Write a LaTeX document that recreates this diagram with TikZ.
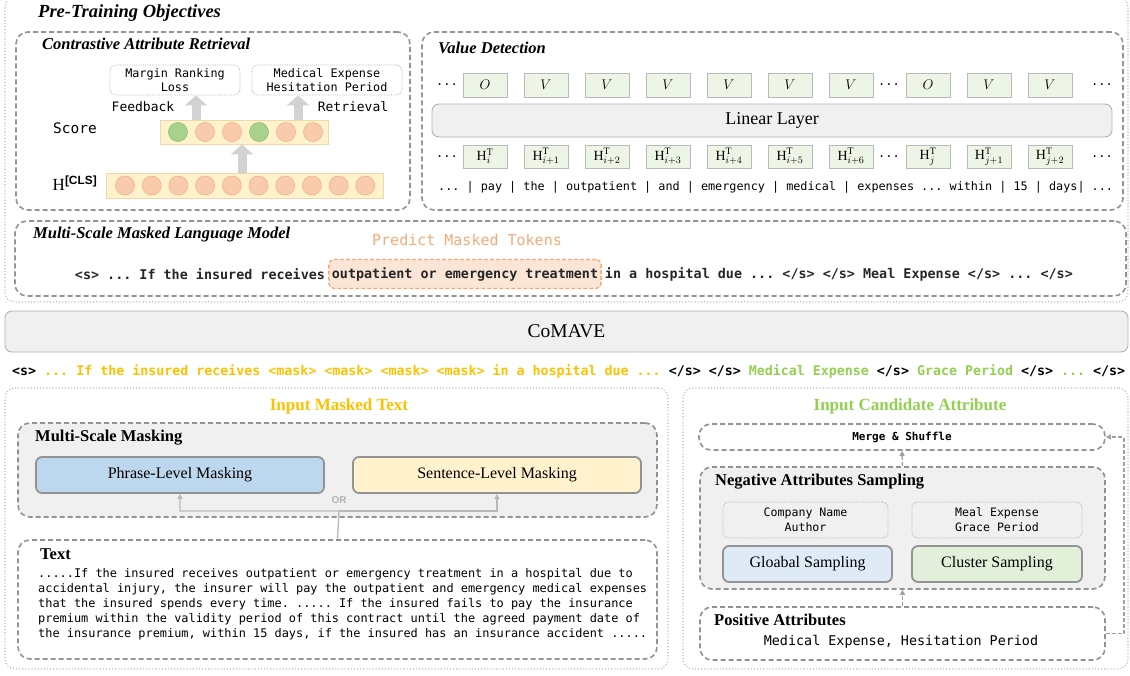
\documentclass[tikz,border=0pt]{standalone}
\usepackage{fix-cm}
\usepackage{fontspec}
\setmainfont{Liberation Serif}
\setsansfont{Liberation Sans}
\setmonofont{DejaVu Sans Mono}
\usepackage{tikz}
\usetikzlibrary{arrows.meta,positioning}

\definecolor{ballfill}{HTML}{F8CBAD}
\definecolor{ballline}{HTML}{F4B183}
\definecolor{gballfill}{HTML}{A9D18E}
\definecolor{gballline}{HTML}{8DBF6C}
\definecolor{barfill}{HTML}{FFF2CC}
\definecolor{barline}{HTML}{EFD9A6}
\definecolor{vcell}{HTML}{EDF5E6}
\definecolor{yel}{HTML}{FFC000}
\definecolor{lgr}{HTML}{92D050}
\definecolor{pred}{HTML}{F4AA78}
\definecolor{predfill}{HTML}{FBE5D6}
\definecolor{phrfill}{HTML}{BDD7EE}
\definecolor{senfill}{HTML}{FFF2CC}
\definecolor{glsfill}{HTML}{DEEBF7}
\definecolor{clsfill}{HTML}{E2F0D9}

\begin{document}
\begin{tikzpicture}
[x=1pt,y=-1pt,
 dotbox/.style={draw=gray!55,dotted,line width=1.1pt,rounded corners=10pt,inner sep=0pt},
 dashbox/.style={draw=gray!85,dash pattern=on 5pt off 3pt,line width=1.6pt,rounded corners=12pt,inner sep=0pt},
 smallbox/.style={draw=gray!60,densely dotted,line width=0.8pt,rounded corners=6pt,inner sep=0pt,align=center,font=\ttfamily\fontsize{11.8}{14}\selectfont},
 solidbox/.style={draw=gray!85,line width=1.8pt,rounded corners=6pt,inner sep=0pt,font=\fontsize{16}{18}\selectfont},
 flatbar/.style={draw=gray!60,fill=gray!12,line width=0.9pt,rounded corners=7pt,inner sep=0pt},
 ttl/.style={anchor=west,inner sep=0pt,font=\bfseries\itshape\fontsize{16.5}{18}\selectfont},
 hd/.style={anchor=west,inner sep=0pt,font=\bfseries\fontsize{16.5}{18}\selectfont},
 mono/.style={inner sep=0pt,font=\ttfamily\fontsize{13}{15}\selectfont},
 cell/.style={draw=gray!55,fill=vcell,line width=0.8pt,minimum width=44pt,minimum height=24pt,inner sep=0pt,font=\fontsize{14}{16}\selectfont},
 dots/.style={inner sep=0pt,font=\ttfamily\fontsize{12}{14}\selectfont},
 vecbar/.style={draw=barline,fill=barfill,line width=0.8pt,inner sep=0pt},
 hball/.style={circle,draw=ballline,fill=ballfill,line width=0.6pt,inner sep=0pt,minimum size=19pt},
 gball/.style={hball,draw=gballline,fill=gballfill},
 fat/.style={draw=gray!35,line width=9pt,-{Triangle[width=22pt,length=10pt]}},
 orline/.style={draw=gray!55,line width=1.3pt,-{Triangle[width=5pt,length=5pt]}},
 link/.style={draw=gray!75,dash pattern=on 4pt off 2pt,line width=1.4pt,-{Triangle[width=5pt,length=5pt]}}]
\useasboundingbox (0,0) rectangle (1130,675);

% pre-training objectives
\node[dotbox,minimum width=1123pt,minimum height=305pt] (pto) at (566.5,149.5) {};
\node[ttl,font=\bfseries\itshape\fontsize{18.5}{20}\selectfont] (ptot) at (38,13) {Pre-Training Objectives};

% contrastive attribute retrieval
\node[dashbox,minimum width=394pt,minimum height=178pt] (car) at (213,121) {};
\node[ttl] (cart) at (42,44) {Contrastive Attribute Retrieval};
\node[smallbox,minimum width=130pt,minimum height=30pt] (mrl) at (175,80) {Margin Ranking\\Loss};
\node[smallbox,minimum width=150pt,minimum height=30pt] (ret) at (327,80) {Medical Expense\\Hesitation Period};
\node[mono] (fbl) at (143,107) {Feedback};
\node[mono] (rtl) at (353,107) {Retrieval};
\node[mono,font=\ttfamily\fontsize{14.5}{16}\selectfont] (scl) at (75,128) {Score};
\node[vecbar,minimum width=168pt,minimum height=24pt] (sbar) at (244,132) {};
\node[gball] (s1) at (178,132) {};
\node[hball] (s2) at (205,132) {};
\node[hball] (s3) at (232,132) {};
\node[gball] (s4) at (259,132) {};
\node[hball] (s5) at (286,132) {};
\node[hball] (s6) at (313,132) {};
\node[inner sep=0pt,font=\fontsize{17}{19}\selectfont] (hcl) at (75,183) {H\textsuperscript{\sffamily\bfseries[CLS]}};
\node[vecbar,minimum width=277pt,minimum height=25pt] (hbar) at (244.5,185.5) {};
\node[hball] (c1) at (125,185.5) {};
\node[hball] (c2) at (151.7,185.5) {};
\node[hball] (c3) at (178.4,185.5) {};
\node[hball] (c4) at (205.1,185.5) {};
\node[hball] (c5) at (231.8,185.5) {};
\node[hball] (c6) at (258.5,185.5) {};
\node[hball] (c7) at (285.2,185.5) {};
\node[hball] (c8) at (311.9,185.5) {};
\node[hball] (c9) at (338.6,185.5) {};
\node[hball] (c10) at (365.3,185.5) {};
\coordinate (fbx) at (196,0);
\coordinate (mdx) at (242,0);
\coordinate (rtx) at (298,0);
\draw[fat] (fbx |- sbar.north) -- (fbx |- mrl.south);
\draw[fat] (rtx |- sbar.north) -- (rtx |- ret.south);
\draw[fat] (mdx |- hbar.north) -- (mdx |- sbar.south);

% value detection
\node[dashbox,minimum width=701pt,minimum height=178pt] (vd) at (772.5,121) {};
\node[ttl] (vdt) at (438,48) {Value Detection};
\node[dots] (od0) at (447,85) {...};
\node[cell] (o1) at (485,85) {$O$};
\node[cell] (o2) at (546,85) {$V$};
\node[cell] (o3) at (607,85) {$V$};
\node[cell] (o4) at (668,85) {$V$};
\node[cell] (o5) at (729,85) {$V$};
\node[cell] (o6) at (790,85) {$V$};
\node[cell] (o7) at (851,85) {$V$};
\node[dots] (od1) at (889,85) {...};
\node[cell] (o8) at (928,85) {$O$};
\node[cell] (o9) at (989,85) {$V$};
\node[cell] (o10) at (1050,85) {$V$};
\node[dots] (od2) at (1102,85) {...};
\node[flatbar,minimum width=680pt,minimum height=33pt,font=\fontsize{18}{20}\selectfont] (lin) at (772,120.5) {Linear Layer};
\node[dots] (hd0) at (447,156.5) {...};
\node[cell,minimum height=23pt] (h1) at (485,156.5) {$\mathrm{H}^{\mathrm{T}}_{i}$};
\node[cell,minimum height=23pt] (h2) at (546,156.5) {$\mathrm{H}^{\mathrm{T}}_{i+1}$};
\node[cell,minimum height=23pt] (h3) at (607,156.5) {$\mathrm{H}^{\mathrm{T}}_{i+2}$};
\node[cell,minimum height=23pt] (h4) at (668,156.5) {$\mathrm{H}^{\mathrm{T}}_{i+3}$};
\node[cell,minimum height=23pt] (h5) at (729,156.5) {$\mathrm{H}^{\mathrm{T}}_{i+4}$};
\node[cell,minimum height=23pt] (h6) at (790,156.5) {$\mathrm{H}^{\mathrm{T}}_{i+5}$};
\node[cell,minimum height=23pt] (h7) at (851,156.5) {$\mathrm{H}^{\mathrm{T}}_{i+6}$};
\node[dots] (hd1) at (889,156.5) {...};
\node[cell,minimum height=23pt] (h8) at (928,156.5) {$\mathrm{H}^{\mathrm{T}}_{j}$};
\node[cell,minimum height=23pt] (h9) at (989,156.5) {$\mathrm{H}^{\mathrm{T}}_{j+1}$};
\node[cell,minimum height=23pt] (h10) at (1050,156.5) {$\mathrm{H}^{\mathrm{T}}_{j+2}$};
\node[dots] (hd2) at (1102,156.5) {...};
\node[mono,anchor=west,font=\ttfamily\fontsize{11.8}{14}\selectfont] (tok) at (438,187) {... | pay | the | outpatient | and | emergency | medical | expenses ... within | 15 | days| ...};

% masked language model
\node[dashbox,minimum width=1111pt,minimum height=75pt] (mlm) at (570.5,258.5) {};
\node[ttl] (mlmt) at (33,235) {Multi-Scale Masked Language Model};
\node[mono,text=pred,font=\ttfamily\fontsize{15}{17}\selectfont] (pmt) at (467,240) {Predict Masked Tokens};
\node[draw=pred,fill=predfill,dash pattern=on 4pt off 2pt,line width=1.3pt,rounded corners=5pt,minimum height=29pt,inner xsep=3pt,inner ysep=0pt,text=black!85,font=\ttfamily\bfseries\fontsize{13.4}{15}\selectfont] (hl) at (465,274) {outpatient or emergency treatment};
\node[mono,anchor=east,inner xsep=3pt,text=black!85,font=\ttfamily\bfseries\fontsize{13.4}{15}\selectfont] (mlft) at (hl.west) {<s> ... If the insured receives};
\node[mono,anchor=west,inner xsep=3pt,text=black!85,font=\ttfamily\bfseries\fontsize{13.4}{15}\selectfont] (mrgt) at (hl.east) {in a hospital due ... </s> </s> Meal Expense </s> ... </s>};

% encoder
\node[flatbar,minimum width=1123pt,minimum height=41pt,font=\fontsize{19.5}{22}\selectfont] (com) at (566.5,331.5) {CoMAVE};
\node[mono,anchor=west,font=\ttfamily\bfseries\fontsize{13.3}{15}\selectfont] (inp) at (12,371) {<s> \textcolor{yel}{... If the insured receives <mask> <mask> <mask> <mask> in a hospital due ...} </s> </s> \textcolor{lgr}{Medical Expense} </s> \textcolor{lgr}{Grace Period} </s> \textcolor{lgr}{...} </s>};

% input masked text
\node[dotbox,minimum width=663pt,minimum height=281pt] (iml) at (336.5,528.5) {};
\node[inner sep=0pt,text=yel,font=\bfseries\fontsize{17}{19}\selectfont] (imlt) at (339,406) {Input Masked Text};
\node[dashbox,fill=gray!12,minimum width=639pt,minimum height=94pt] (msm) at (337.5,470) {};
\node[hd] (msmt) at (35,438) {Multi-Scale Masking};
\node[solidbox,fill=phrfill,minimum width=288pt,minimum height=36pt] (phr) at (180,475) {Phrase-Level Masking};
\node[solidbox,fill=senfill,minimum width=288pt,minimum height=36pt] (sen) at (497,475) {Sentence-Level Masking};
\node[inner sep=0pt,text=gray!60,font=\sffamily\bfseries\fontsize{10}{12}\selectfont] (orl) at (339,500) {OR};
\node[dashbox,minimum width=639pt,minimum height=119pt] (txt) at (337.5,599.5) {};
\node[hd] (txtt) at (40,554) {Text};
\node[mono,anchor=north west,align=left,font=\ttfamily\fontsize{11.9}{15}\selectfont] (para) at (38,568) {.....If the insured receives outpatient or emergency treatment in a hospital due to\\
accidental injury, the insurer will pay the outpatient and emergency medical expenses\\
that the insured spends every time. ..... If the insured fails to pay the insurance\\
premium within the validity period of this contract until the agreed payment date of\\
the insurance premium, within 15 days, if the insured has an insurance accident .....};
\coordinate (orj) at (339,511);
\draw[orline] (txt.north) -- (orj) -| (phr.south);
\draw[orline] (orj) -| (sen.south);

% input candidate attribute
\node[dotbox,minimum width=445pt,minimum height=281pt] (ica) at (905.5,528.5) {};
\node[inner sep=0pt,text=lgr,font=\bfseries\fontsize{17}{19}\selectfont] (icat) at (910,406) {Input Candidate Attribute};
\node[dashbox,minimum width=406pt,minimum height=26pt,font=\ttfamily\bfseries\fontsize{11}{13}\selectfont] (mrg) at (902,437) {Merge \& Shuffle};
\node[dashbox,fill=gray!12,minimum width=405pt,minimum height=122pt] (neg) at (902.5,528) {};
\node[hd] (negt) at (715,482) {Negative Attributes Sampling};
\node[smallbox,minimum width=165pt,minimum height=36pt,font=\ttfamily\fontsize{11.6}{15}\selectfont] (cna) at (805.5,520) {Company Name\\Author};
\node[smallbox,minimum width=170pt,minimum height=36pt,font=\ttfamily\fontsize{11.6}{15}\selectfont] (mgp) at (997,520) {Meal Expense\\Grace Period};
\node[solidbox,fill=glsfill,minimum width=169pt,minimum height=36pt] (gls) at (807.5,564) {Gloabal Sampling};
\node[solidbox,fill=clsfill,minimum width=170pt,minimum height=36pt] (cls) at (997,564) {Cluster Sampling};
\node[dashbox,minimum width=405pt,minimum height=53pt] (pos) at (902.5,633.5) {};
\node[hd] (post) at (714,620) {Positive Attributes};
\node[mono,font=\ttfamily\fontsize{13.4}{15}\selectfont] (posv) at (901,642) {Medical Expense, Hesitation Period};
\draw[link] (pos.north) -- (neg.south);
\draw[link] (neg.north) -- (mrg.south);
\draw[link] (pos.east) -- ++(18,0) |- (mrg.east);
\end{tikzpicture}
\end{document}
